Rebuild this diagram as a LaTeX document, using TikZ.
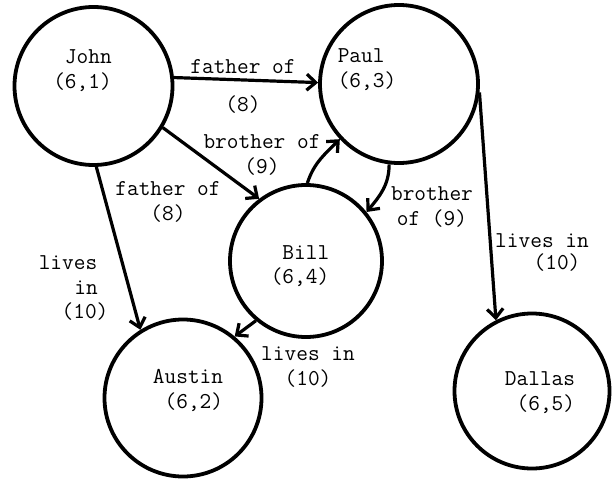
\documentclass[tikz,border=0pt]{standalone}
\usetikzlibrary{arrows.meta}
\tikzset{
  person/.style={circle,draw,line width=3.8pt,inner sep=0pt},
  tag/.style={font=\fontsize{22.7}{24.5}\selectfont\ttfamily,inner sep=0pt},
  link/.style={line width=3.2pt,-{Straight Barb[length=9pt,width=16pt]}}
}
\begin{document}
\begin{tikzpicture}[x=1pt,y=1pt]
\useasboundingbox (0,0) rectangle (613,-479);

% entity circles
\node[person,minimum size=158pt] (john)   at (93.5,-86) {};
\node[person,minimum size=158pt] (paul)   at (399,-84)  {};
\node[person,minimum size=152pt] (bill)   at (306,-261) {};
\node[person,minimum size=157pt] (austin) at (183,-398) {};
\node[person,minimum size=155pt] (dallas) at (532,-391) {};

% names and keys inside the circles
\node[tag,align=right] (johnname)   at (82.5,-70.5) {John\\(6,1)};
\node[tag,align=left]  (paulname)   at (367,-69.5)  {Paul\\(6,3)};
\node[tag,align=right] (billname)   at (300,-266)   {Bill\\(6,4)};
\node[tag,align=right] (austinname) at (188,-390.5) {Austin\\(6,2)};
\node[tag,align=right] (dallasname) at (540,-392.5) {Dallas\\(6,5)};

% relations
\draw[link] (john.6) -- (paul.179);
\draw[link] (john.-31) -- (bill.127);
\draw[link] (bill.89) to[out=72,in=225] (paul.223);
\draw[link] (paul.263) to[out=-90,in=50] (bill.39);
\draw[link] (john.-88) -- (austin.122);
\draw[link] (bill.230) -- (austin.50);
\draw[link] (paul.-6) -- (dallas.117);

% relation labels
\node[tag] (fatherA)  at (243,-67)  {father of};
\node[tag] (fatherAk) at (243,-105) {(8)};
\node[tag,align=center] (brotherA) at (262,-155) {brother of\\(9)};
\node[tag,align=center] (fatherB)  at (168,-202) {father of\\(8)};
\node[tag] (livesA)   at (68,-263) {lives};
\node[tag] (livesAin) at (86,-288) {in};
\node[tag] (livesAk)  at (85,-312) {(10)};
\node[tag,align=center] (brotherB) at (432,-207) {brother\\of (9)};
\node[tag] (livesB)  at (542,-241) {lives in};
\node[tag] (livesBk) at (557,-263) {(10)};
\node[tag,align=center] (livesC) at (308,-367) {lives in\\(10)};
\end{tikzpicture}
\end{document}
